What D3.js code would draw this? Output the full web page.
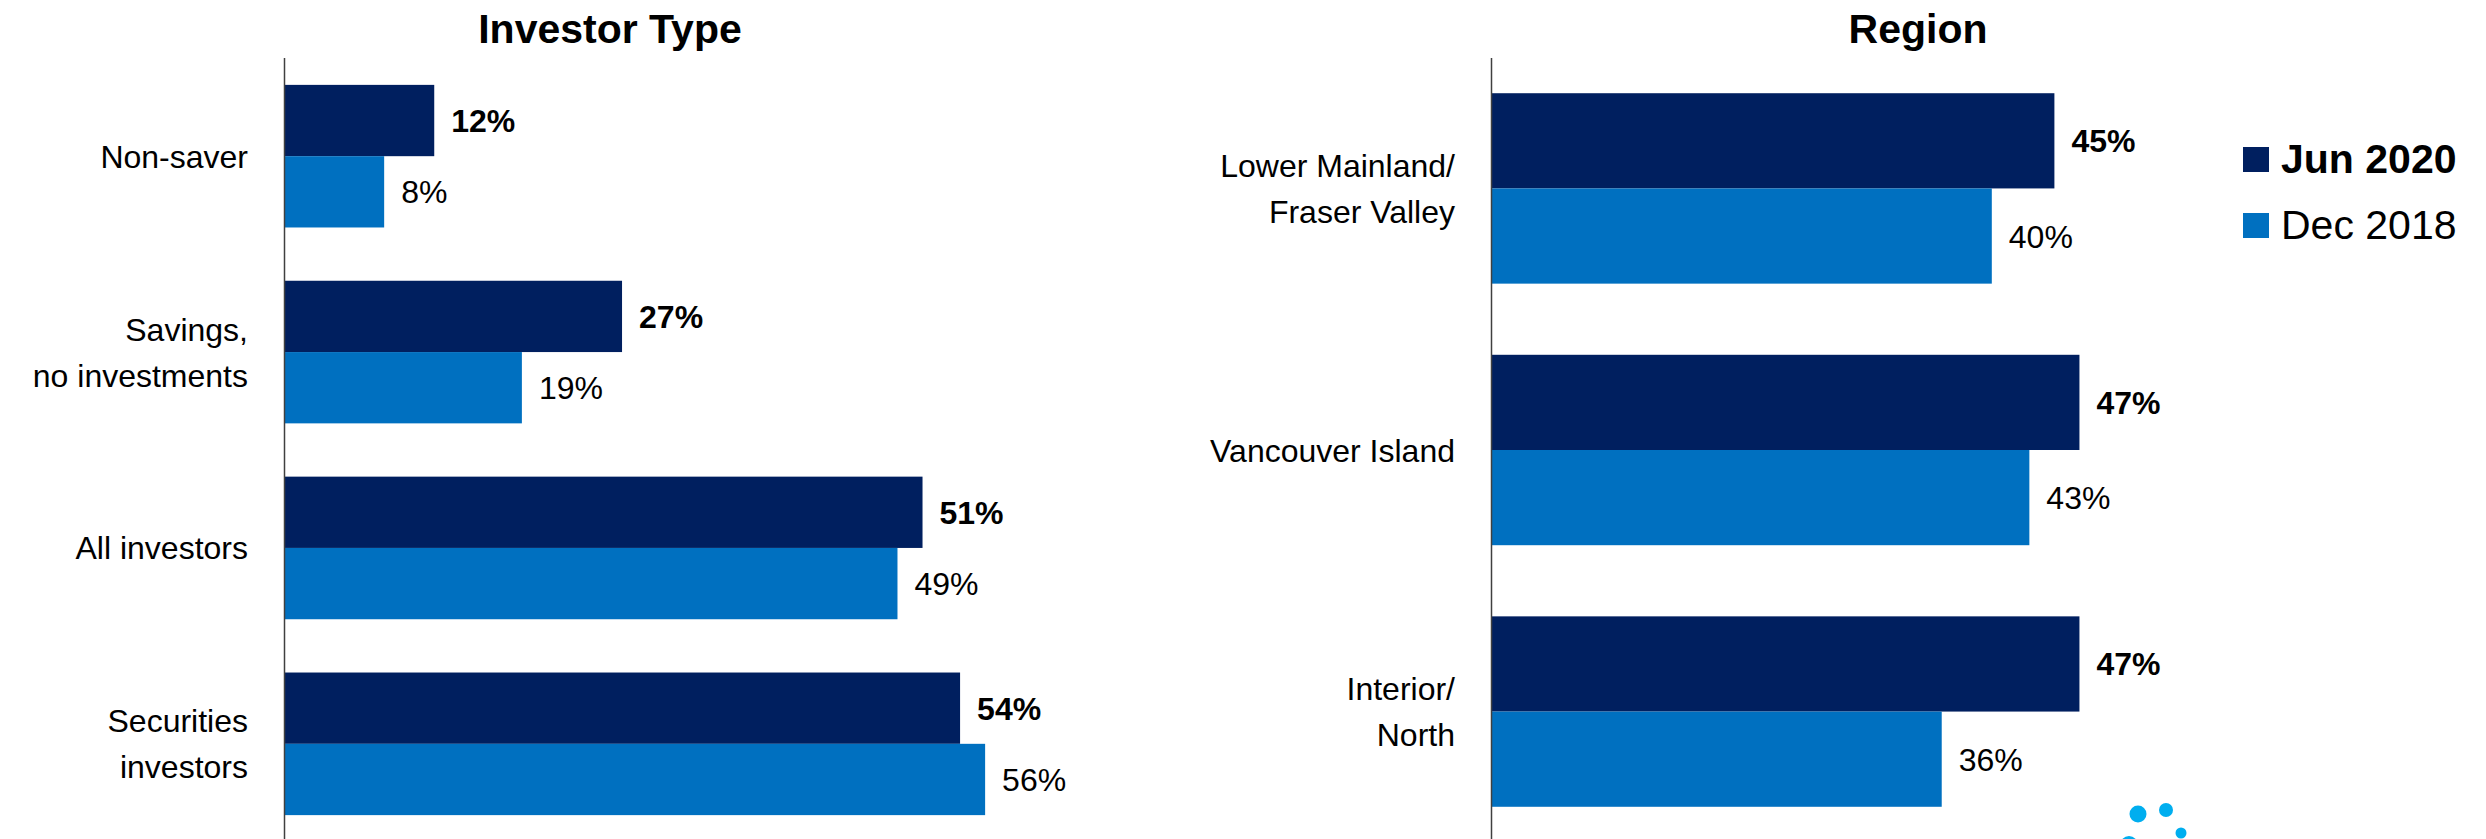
<!DOCTYPE html>
<html>
<head>
<meta charset="utf-8">
<script src="https://cdn.jsdelivr.net/npm/d3@7"></script>
<style>
  html, body { margin: 0; padding: 0; background: #fff; }
  svg { display: block; font-family: "Liberation Sans", Arial, sans-serif; }
</style>
</head>
<body>
<svg id="chart" width="2486" height="839"></svg>
<script>
// ---- data ----
const seriesNames = ["Jun 2020", "Dec 2018"];
const investorCategories = ["Non-saver", "Savings,\nno investments", "All investors", "Securities\ninvestors"];
const investorJun2020 = [12, 27, 51, 54];
const investorDec2018 = [8, 19, 49, 56];
const regionCategories = ["Lower Mainland/\nFraser Valley", "Vancouver Island", "Interior/\nNorth"];
const regionJun2020 = [45, 47, 47];
const regionDec2018 = [40, 43, 36];
const panelTitles = ["Investor Type", "Region"];

// ---- styling ----
const colors = { "Jun 2020": "#001F5F", "Dec 2018": "#0070C0" };
const W = 2486, H = 839;
const svg = d3.select("#chart");

const x = d3.scaleLinear().domain([0, 100]).range([0, 1252]);

function panel(originX, titleX, title, cats, jun, dec) {
  const g = svg.append("g").attr("transform", `translate(${originX},0)`);
  const y = d3.scaleBand().domain(cats).range([60, 840]).paddingInner(0.272).paddingOuter(0.127);
  const sub = d3.scaleBand().domain(seriesNames).range([0, y.bandwidth()]);
  const rows = cats.map((c, i) => ({ cat: c, vals: [{ s: "Jun 2020", v: jun[i] }, { s: "Dec 2018", v: dec[i] }] }));

  const grp = g.selectAll("g.cat").data(rows).join("g").attr("class", "cat")
    .attr("transform", d => `translate(0,${y(d.cat)})`);

  grp.selectAll("rect").data(d => d.vals).join("rect")
    .attr("x", x(0))
    .attr("y", d => sub(d.s))
    .attr("width", d => x(d.v) - x(0))
    .attr("height", sub.bandwidth())
    .attr("fill", d => colors[d.s]);

  grp.selectAll("text.val").data(d => d.vals).join("text").attr("class", "val")
    .attr("x", d => x(d.v) + 17)
    .attr("y", d => sub(d.s) + sub.bandwidth() / 2)
    .attr("dy", "0.36em")
    .attr("font-size", 32)
    .attr("font-weight", d => d.s === "Jun 2020" ? "bold" : "normal")
    .attr("fill", "#000")
    .text(d => d.v + "%");

  // category labels
  const lab = g.selectAll("text.cat").data(cats).join("text").attr("class", "cat")
    .attr("text-anchor", "end")
    .attr("font-size", 32)
    .attr("fill", "#000");
  const lh = 46;
  lab.each(function(c) {
    const lines = c.split("\n");
    const cy = y(c) + y.bandwidth() / 2;
    d3.select(this).selectAll("tspan").data(lines).join("tspan")
      .attr("x", -36)
      .attr("y", (l, i) => cy + (i - (lines.length - 1) / 2) * lh)
      .attr("dy", "0.36em")
      .text(l => l);
  });

  // axis line
  g.append("line").attr("x1", 0.5).attr("x2", 0.5).attr("y1", 58).attr("y2", H)
    .attr("stroke", "#404040").attr("stroke-width", 1.5);

  // title
  svg.append("text").attr("x", titleX).attr("y", 43).attr("text-anchor", "middle")
    .attr("font-size", 41).attr("font-weight", "bold").attr("fill", "#000").text(title);
}

panel(284, 610, panelTitles[0], investorCategories, investorJun2020, investorDec2018);
panel(1491, 1918, panelTitles[1], regionCategories, regionJun2020, regionDec2018);

// legend
const leg = svg.append("g").attr("transform", "translate(2243,147)");
const li = leg.selectAll("g").data(seriesNames).join("g")
  .attr("transform", (d, i) => `translate(0,${i * 66})`);
li.append("rect").attr("width", 26).attr("height", 25).attr("fill", d => colors[d]);
li.append("text").attr("x", 38).attr("y", 26).attr("font-size", 41)
  .attr("font-weight", d => d === "Jun 2020" ? "bold" : "normal")
  .attr("fill", "#000").text(d => d);

// decorative logo dots (partially visible at bottom right)
const logoDots = [[2138, 814, 8.5], [2166, 810, 7], [2181, 833, 5.5], [2129, 845, 9]];
svg.append("g").selectAll("circle").data(logoDots).join("circle")
  .attr("cx", d => d[0]).attr("cy", d => d[1]).attr("r", d => d[2]).attr("fill", "#00AEEF");
</script>
</body>
</html>
